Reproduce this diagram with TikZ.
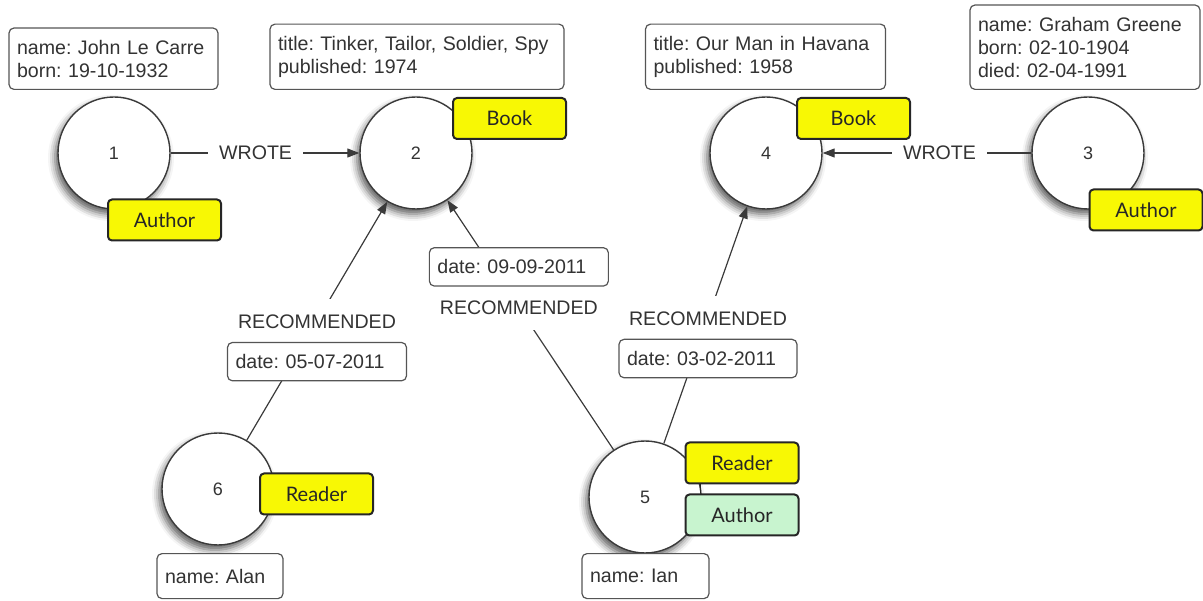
\documentclass[tikz,border=0pt]{standalone}
\usepackage{fontspec}
\setmainfont{Liberation Sans}
\newfontfamily\badgefont{Lato}
\usetikzlibrary{positioning,arrows.meta,shadows.blur}
\frenchspacing
\hyphenpenalty=10000
\definecolor{textgray}{HTML}{333333}
\definecolor{linegray}{HTML}{3A3A3A}
\definecolor{boxgray}{HTML}{555555}
\definecolor{badgeyellow}{HTML}{F8F804}
\definecolor{badgegreen}{HTML}{C8F4CF}
\tikzset{
  entity/.style={circle, draw=linegray, line width=1.4pt, fill=white, minimum size=112pt, inner sep=0pt,
    font=\fontsize{18}{20}\selectfont, text=textgray,
    blur shadow={shadow xshift=-3pt, shadow yshift=-5pt, shadow blur radius=7pt, shadow opacity=65}},
  props/.style={draw=boxgray, line width=1.2pt, rounded corners=5pt, fill=white, align=left,
    inner xsep=8pt, inner ysep=12pt, text=textgray, font=\fontsize{19.6}{23}\selectfont},
  badge/.style={draw=black!85, line width=2pt, rounded corners=4pt, fill=badgeyellow,
    minimum width=113pt, minimum height=41pt, inner sep=0pt, text=black!85,
    font=\badgefont\fontsize{20}{22}\selectfont},
  rel/.style={draw=linegray, line width=1.2pt, -{Triangle[length=12pt,width=9pt]}},
  relname/.style={fill=white, text=textgray, font=\fontsize{19.6}{22}\selectfont, inner xsep=11pt, inner ysep=2pt},
  recname/.style={relname, inner xsep=4pt, inner ysep=15pt, text height=14.5pt, text depth=0pt}
}
\begin{document}
\begin{tikzpicture}[x=1pt, y=-1pt]
\useasboundingbox (0,0) rectangle (1203,601);

% nodes
\node[entity] (n1) at (114,153) {1};
\node[entity] (n2) at (416,153) {2};
\node[entity] (n4) at (766,153) {4};
\node[entity] (n3) at (1088,153) {3};
\node[entity] (n6) at (218,489) {6};
\node[entity] (n5) at (645,497) {5};

% properties
\node[props, anchor=south, text width=193pt] (p1) at (113.5,90) {name: John Le Carre\\born: 19-10-1932};
\node[props, anchor=south, text width=278pt] (p2) at (417,90) {title: Tinker, Tailor, Soldier, Spy\\published: 1974};
\node[props, anchor=south, text width=224pt] (p4) at (765.5,90) {title: Our Man in Havana\\published: 1958};
\node[props, anchor=south, text width=214pt] (p3) at (1085,90) {name: Graham Greene\\born: 02-10-1904\\died: 02-04-1991};
\node[props, anchor=north, text width=110pt, minimum height=45pt] (p6) at (220,553) {name: Alan};
\node[props, anchor=north, text width=111pt, minimum height=45pt] (p5) at (645.5,553) {name: Ian};

% relationships
\draw[rel] (n1) -- node[relname, pos=0.45] (w12) {WROTE} (n2);
\draw[rel] (n3) -- node[relname, pos=0.44] (w34) {WROTE} (n4);
\draw[rel] (n6) -- node[recname, pos=0.5] (r62) {RECOMMENDED} (n2);
\draw[rel] (n5) -- node[recname, pos=0.57] (r52) {RECOMMENDED} (n2);
\draw[rel] (n5) -- node[recname, pos=0.53] (r54) {RECOMMENDED} (n4);
\node[props, below=-2pt of r62, text width=163pt] (d62) {date: 05-07-2011};
\node[props, above=-2pt of r52, text width=163pt] (d52) {date: 09-09-2011};
\node[props, below=-2pt of r54, text width=162pt] (d54) {date: 03-02-2011};

% labels
\node[badge] (l1) at (164.5,220) {Author};
\node[badge] (l2) at (509.5,118.5) {Book};
\node[badge] (l4) at (853.5,118.5) {Book};
\node[badge] (l3) at (1146,210) {Author};
\node[badge] (l6) at (316.5,494) {Reader};
\node[badge] (l5r) at (742,463) {Reader};
\node[badge, fill=badgegreen] (l5a) at (742,515) {Author};
\draw[line width=1.5pt, draw=black!85] ([xshift=16pt]l5r.south west) -- ([xshift=16pt]l5a.north west);
\end{tikzpicture}
\end{document}
